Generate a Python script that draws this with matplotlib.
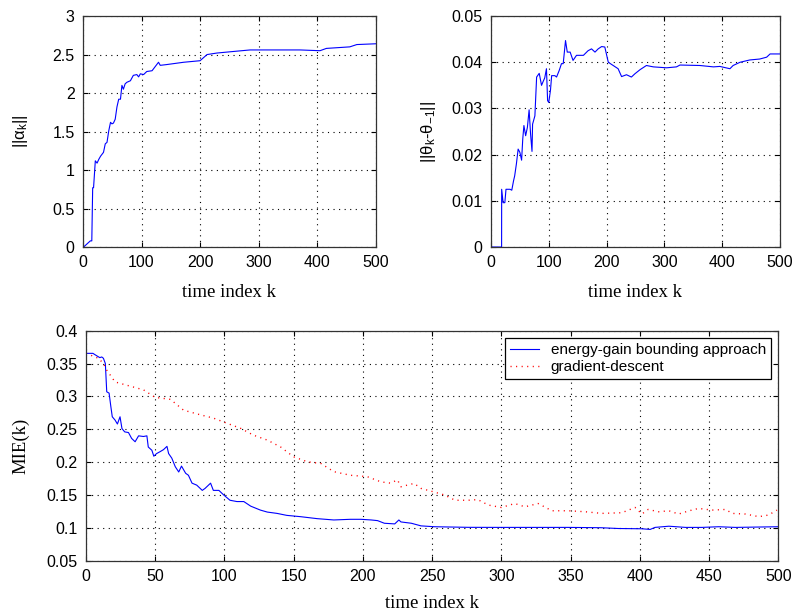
import numpy as np
import matplotlib
matplotlib.use('Agg')
import matplotlib.pyplot as plt

# ||alpha_k|| (top left)
k_alpha = [1, 12.5, 15, 16.5, 18, 21, 24, 27, 30, 32, 35, 38, 41, 44, 47, 49.5, 52, 55,
           58, 61, 64, 66.5, 69, 72, 75, 81, 86, 92, 95, 98, 103.5, 109, 118, 123, 129,
           132, 143, 172, 200, 212, 229, 257, 285.5, 314, 371, 405, 416, 456, 468, 500]
alpha_norm = [0, 0.08, 0.08, 0.77, 0.77, 1.12, 1.09, 1.14, 1.18, 1.2, 1.23, 1.34, 1.36,
              1.51, 1.62, 1.6, 1.61, 1.66, 1.82, 1.92, 1.92, 2.1, 2.05, 2.12, 2.14, 2.16,
              2.23, 2.24, 2.21, 2.25, 2.24, 2.28, 2.29, 2.34, 2.40, 2.36, 2.37, 2.40, 2.42,
              2.50, 2.52, 2.54, 2.56, 2.56, 2.56, 2.55, 2.58, 2.60, 2.63, 2.64]

# ||theta_k - theta_-1|| (top right)
k_theta = [0, 18.4, 18.5, 21, 24, 26, 33, 36, 39, 41, 44, 47, 50, 53, 55, 57, 60, 63, 66,
           68.5, 71, 72, 76, 79, 83.5, 87.5, 90.5, 93, 96, 98, 100, 103, 105, 110.5, 113.5,
           118, 122, 125, 129, 132, 137, 142, 148, 160, 168, 174, 180, 185.5, 191.5, 197,
           203, 211.5, 220, 226, 234.5, 243, 249, 258, 269, 281, 304, 321, 327, 361.5, 385,
           396, 413.5, 419, 431, 448, 465, 477, 483, 500]
theta_norm = [0, 0, 0.0125, 0.0096, 0.0096, 0.0125, 0.0125, 0.0123, 0.0143, 0.0154, 0.018,
              0.0212, 0.0205, 0.0188, 0.0234, 0.0263, 0.0241, 0.0259, 0.0297, 0.0245, 0.0207,
              0.0266, 0.0284, 0.0368, 0.0376, 0.035, 0.0359, 0.0366, 0.0386, 0.0317, 0.0313,
              0.034, 0.0371, 0.0371, 0.0368, 0.0382, 0.0397, 0.0397, 0.0447, 0.0422, 0.0422,
              0.0404, 0.0415, 0.0415, 0.0425, 0.0429, 0.0422, 0.0429, 0.0434, 0.0433, 0.040,
              0.0393, 0.0386, 0.0369, 0.0373, 0.0368, 0.0375, 0.0384, 0.0393, 0.039, 0.0388,
              0.039, 0.0394, 0.0393, 0.039, 0.0391, 0.0386, 0.0393, 0.040, 0.0405, 0.0407,
              0.0411, 0.0418, 0.0418]

# MIE(k) (bottom)
k_egb = [0, 5, 8, 10, 11.4, 12.6, 14, 15, 16.7, 18, 19, 21, 22.7, 24.6, 26, 28, 30.7, 33,
         35.5, 38, 41.5, 44, 45, 47.6, 49, 51, 53.6, 56, 58.5, 59.7, 62, 64.5, 67, 69, 72,
         74, 76.6, 80, 84, 86, 90, 92, 96, 99.5, 104, 109, 114, 119, 126, 131, 138, 145,
         155, 167, 179, 191, 198.6, 206, 210.6, 215.5, 223, 226, 227.5, 235, 242, 251.7,
         276, 300, 324, 348, 372, 384.5, 401.5, 407.5, 411, 421, 433, 445, 457, 469, 500]
mie_egb = [0.3655, 0.3655, 0.3615, 0.359, 0.360, 0.358, 0.350, 0.307, 0.305, 0.284, 0.269,
           0.264, 0.258, 0.269, 0.251, 0.246, 0.245, 0.236, 0.231, 0.240, 0.239, 0.240,
           0.223, 0.218, 0.209, 0.213, 0.216, 0.219, 0.224, 0.213, 0.206, 0.193, 0.185,
           0.194, 0.183, 0.180, 0.168, 0.165, 0.157, 0.160, 0.168, 0.157, 0.157, 0.150,
           0.142, 0.140, 0.140, 0.133, 0.127, 0.124, 0.122, 0.119, 0.117, 0.114, 0.112,
           0.113, 0.113, 0.112, 0.111, 0.107, 0.106, 0.112, 0.109, 0.107, 0.103, 0.1017,
           0.1008, 0.1007, 0.1007, 0.1007, 0.1002, 0.099, 0.0986, 0.0976, 0.1007, 0.1025,
           0.1007, 0.1007, 0.1017, 0.1007, 0.1017]

k_gd = [0, 9, 12.6, 15, 21, 29.5, 41.5, 50, 61, 70.5, 82.6, 92, 102, 111.6, 121, 131,
        140.6, 150, 160, 169.6, 179, 191, 203, 213, 220, 225, 227.5, 232, 237, 242, 250.7,
        259, 266.6, 276, 283, 290.6, 300, 309.7, 317, 326.6, 336.5, 348.5, 360.6, 372.5,
        387, 396.6, 401.5, 406, 413.5, 421, 428, 435.7, 442.5, 452, 462, 466.7, 476.3,
        486, 493, 499]
mie_gd = [0.3655, 0.358, 0.350, 0.340, 0.322, 0.317, 0.310, 0.2985, 0.2955, 0.279, 0.272,
          0.267, 0.259, 0.2515, 0.241, 0.2335, 0.223, 0.208, 0.2005, 0.198, 0.1855, 0.180,
          0.178, 0.170, 0.168, 0.173, 0.1625, 0.165, 0.1676, 0.160, 0.155, 0.150, 0.142,
          0.142, 0.143, 0.1347, 0.131, 0.137, 0.132, 0.137, 0.126, 0.126, 0.1245, 0.122,
          0.123, 0.131, 0.121, 0.128, 0.1245, 0.126, 0.121, 0.126, 0.1296, 0.127, 0.128,
          0.122, 0.121, 0.117, 0.1195, 0.127]

plt.rcParams['font.family'] = 'Liberation Sans'
plt.rcParams['mathtext.default'] = 'regular'

serif = 'Liberation Serif'
tick_fs = 11.5


def style_axes(ax):
    ax.tick_params(direction='in', length=3.5, width=0.8, top=True, right=True,
                   labelsize=tick_fs, pad=6)
    ax.grid(True, color='black', linestyle=(0, (1, 4)), linewidth=0.8)
    for s in ax.spines.values():
        s.set_linewidth(0.9)
        s.set_color('#333333')


fig = plt.figure(figsize=(7.96, 6.11), dpi=100)

ax1 = fig.add_axes([0.1043, 0.5957, 0.3675, 0.378])
ax1.plot(k_alpha, alpha_norm, color='blue', linewidth=0.8)
ax1.set_xlim(0, 500)
ax1.set_ylim(0, 3)
ax1.set_xticks([0, 100, 200, 300, 400, 500])
ax1.set_yticks([0, 0.5, 1, 1.5, 2, 2.5, 3])
ax1.set_yticklabels(['0', '0.5', '1', '1.5', '2', '2.5', '3'])
ax1.set_xlabel('time index k', family=serif, fontsize=13.5, labelpad=10)
ax1.set_ylabel('||α$_k$||', fontsize=12, labelpad=16)
style_axes(ax1)

ax2 = fig.add_axes([0.6168, 0.5957, 0.363, 0.378])
ax2.plot(k_theta, theta_norm, color='blue', linewidth=0.8)
ax2.set_xlim(0, 500)
ax2.set_ylim(0, 0.05)
ax2.set_xticks([0, 100, 200, 300, 400, 500])
ax2.set_yticks([0, 0.01, 0.02, 0.03, 0.04, 0.05])
ax2.set_yticklabels(['0', '0.01', '0.02', '0.03', '0.04', '0.05'])
ax2.set_xlabel('time index k', family=serif, fontsize=13.5, labelpad=10)
ax2.set_ylabel('||θ$_k$-θ$_{-1}$||', fontsize=12, labelpad=10)
style_axes(ax2)

ax3 = fig.add_axes([0.108, 0.0823, 0.8697, 0.3765])
ax3.plot(k_egb, mie_egb, color='blue', linewidth=0.8,
         label='energy-gain bounding approach')
ax3.plot(k_gd, mie_gd, color='red', linestyle=(0, (0.8, 3.2)), linewidth=1.0,
         label='gradient-descent')
ax3.set_xlim(0, 500)
ax3.set_ylim(0.05, 0.4)
ax3.set_xticks(np.arange(0, 501, 50))
ax3.set_yticks([0.05, 0.1, 0.15, 0.2, 0.25, 0.3, 0.35, 0.4])
ax3.set_yticklabels(['0.05', '0.1', '0.15', '0.2', '0.25', '0.3', '0.35', '0.4'])
ax3.set_xlabel('time index k', family=serif, fontsize=13.5, labelpad=8)
ax3.set_ylabel('MIE(k)', family=serif, fontsize=13.5, labelpad=12)
style_axes(ax3)
leg = ax3.legend(loc='upper right', fontsize=11, frameon=True, fancybox=False,
                 framealpha=1, edgecolor='black', borderaxespad=0.5,
                 handlelength=1.9, labelspacing=0.2, borderpad=0.3)
leg.get_frame().set_linewidth(0.9)

fig.savefig('out.png', dpi=100)
